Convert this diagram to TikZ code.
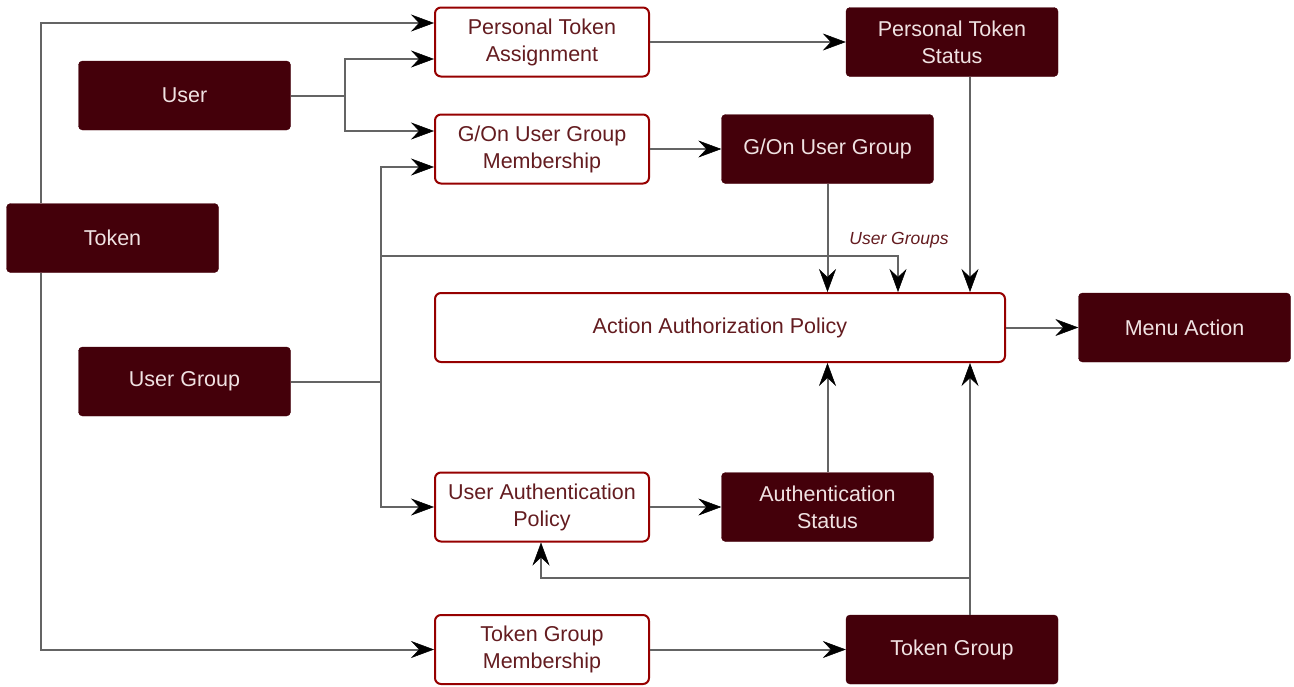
\documentclass[tikz,border=0pt]{standalone}
\usepackage{fontspec}
\setmainfont{Liberation Sans}
\usetikzlibrary{arrows.meta,calc}
\definecolor{darkfill}{RGB}{68,0,10}
\definecolor{darktext}{RGB}{240,226,226}
\definecolor{redborder}{RGB}{150,0,0}
\definecolor{lighttext}{RGB}{100,28,32}
\definecolor{linegray}{RGB}{100,100,100}
\begin{document}
\begin{tikzpicture}[x=1pt,y=-1pt,
  darkbox/.style={draw=darkfill, fill=darkfill, rounded corners=4pt, text=darktext,
    minimum width=212pt, minimum height=69pt, inner sep=0pt, align=center,
    font=\fontsize{21.5}{27}\selectfont},
  lightbox/.style={draw=redborder, line width=2pt, fill=white, rounded corners=6pt, text=lighttext,
    minimum width=214pt, minimum height=69pt, inner sep=0pt, align=center,
    font=\fontsize{21.5}{27}\selectfont},
  wire/.style={draw=linegray, line width=2pt},
  conn/.style={wire, -{Stealth[length=23pt, width=17pt, inset=8pt, color=black, line width=0.5pt]}}
]
\path[use as bounding box] (0,0) rectangle (1294,686);

% nodes
\node[lightbox] (pta) at (542,42) {Personal Token\\Assignment};
\node[darkbox] (pts) at (952,42) {Personal Token\\Status};
\node[darkbox] (user) at (184.5,95.5) {User};
\node[lightbox] (gugm) at (542,149) {G/On User Group\\Membership};
\node[darkbox] (gug) at (827.5,149) {G/On User Group};
\node[darkbox] (token) at (112.5,238) {Token};
\node[lightbox, minimum width=570pt] (aap) at (720,327.5) {Action Authorization Policy};
\node[darkbox] (ma) at (1184.5,327.5) {Menu Action};
\node[darkbox] (ug) at (184.5,381.5) {User Group};
\node[lightbox] (uap) at (542,507) {User Authentication\\Policy};
\node[darkbox] (as) at (827.5,507) {Authentication\\Status};
\node[lightbox] (tgm) at (542,649.5) {Token Group\\Membership};
\node[darkbox] (tg) at (952,649.5) {Token Group};
\node[text=lighttext, font=\itshape\fontsize{17.5}{20}\selectfont] (lbl) at (899,240) {User Groups};

% junctions
\coordinate (uj) at (345,95.5);
\coordinate (gj) at (381,381.5);
\coordinate (gk) at (381,256);
\coordinate (tj) at (970,578);

% connectors
\draw[conn] ($(token.north)+(-71.5,0)$) |- ($(pta.west)+(0,-19)$);
\draw[conn] ($(token.south)+(-71.5,0)$) |- (tgm.west);

\draw[wire] (user.east) -- (uj);
\draw[conn] (uj) |- ($(pta.west)+(0,17)$);
\draw[conn] (uj) |- ($(gugm.west)+(0,-18)$);

\draw[wire] (ug.east) -- (gj);
\draw[conn] (gj) |- ($(gugm.west)+(0,18)$);
\draw[conn] (gj) |- (uap.west);
\draw[conn] (gk) -| ($(aap.north)+(178,0)$);

\draw[conn] (pta) -- (pts);
\draw[conn] (gugm) -- (gug);
\draw[conn] (gug.south) -- (gug.south |- aap.north);
\draw[conn] ($(pts.south)+(18,0)$) -- ($(aap.north)+(250,0)$);
\draw[conn] (aap) -- (ma);
\draw[conn] (as.north) -- (as.north |- aap.south);
\draw[conn] ($(tg.north)+(18,0)$) -- ($(aap.south)+(250,0)$);
\draw[conn] (tj) -| ($(uap.south)+(-1,0)$);
\draw[conn] (uap) -- (as);
\draw[conn] (tgm) -- (tg);
\end{tikzpicture}
\end{document}
